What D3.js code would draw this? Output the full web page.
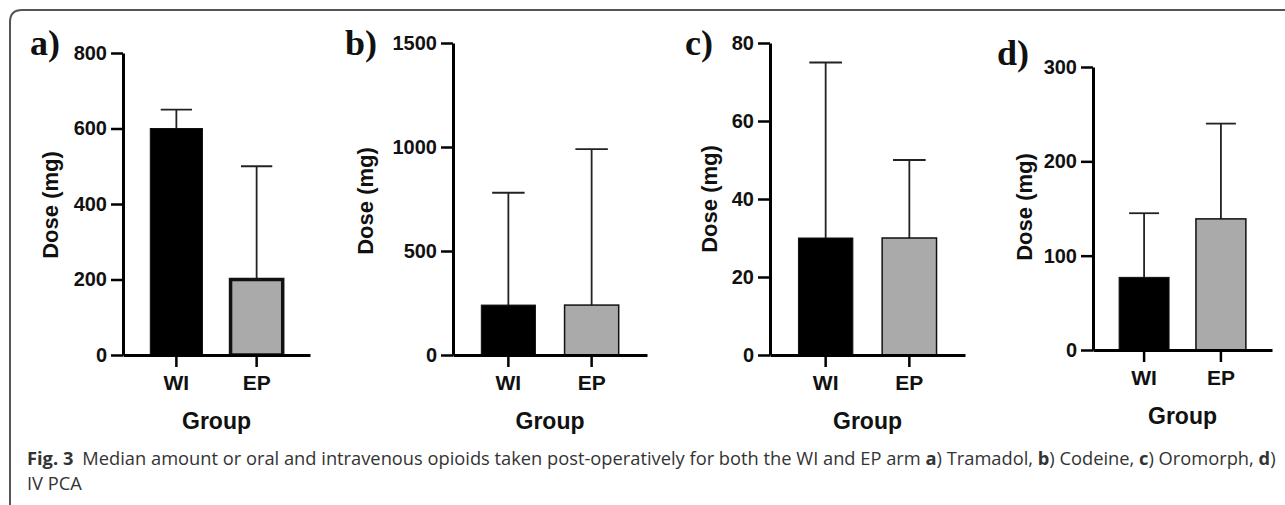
<!DOCTYPE html>
<html>
<head>
<meta charset="utf-8">
<script src="https://cdn.jsdelivr.net/npm/d3@7"></script>
<style>
  html, body { margin: 0; padding: 0; background: #fff; }
  svg { display: block; }
  .lab { font-family: "Liberation Sans", Arial, sans-serif; font-weight: bold; fill: #111; }
</style>
</head>
<body>
<div id="chart"></div>
<script>
// groups on the x axis
const groups = ["WI", "EP"];
// panel letters
const panelLetters = ["a)", "b)", "c)", "d)"];
// median dose (bar height) per panel, WI then EP
const medianA = [600, 200];
const medianB = [240, 240];
const medianC = [30, 30];
const medianD = [77, 139];
// upper error bar value per panel
const upperA = [650, 500];
const upperB = [780, 990];
const upperC = [75, 50];
const upperD = [145, 240];
// y axis tick values per panel
const ticksA = [0, 200, 400, 600, 800];
const ticksB = [0, 500, 1000, 1500];
const ticksC = [0, 20, 40, 60, 80];
const ticksD = [0, 100, 200, 300];

const barColors = ["#000000", "#aaaaaa"];

const W = 1285, H = 505;

const svg = d3.select("#chart")
  .append("svg")
  .attr("width", W)
  .attr("height", H);

// 外框（左上圆角）
svg.append("path")
  .attr("d", `M10,${H} L10,22 Q10,10 22,10 L${W},10`)
  .attr("fill", "none")
  .attr("stroke", "#555")
  .attr("stroke-width", 2);

// panel layout: axis origin, width, top
const panels = [
  { label: panelLetters[0], median: medianA, upper: upperA, ticks: ticksA,
    x0: 123, x1: 310, y0: 355, yTop: 53, labelX: 30, labelY: 55, titleX: 50, titleY: 205, epStroke: 3.5 },
  { label: panelLetters[1], median: medianB, upper: upperB, ticks: ticksB,
    x0: 453, x1: 647, y0: 355, yTop: 43, labelX: 345, labelY: 55, titleX: 365, titleY: 201, epStroke: 1.5 },
  { label: panelLetters[2], median: medianC, upper: upperC, ticks: ticksC,
    x0: 770, x1: 965, y0: 355, yTop: 43, labelX: 685, labelY: 55, titleX: 709, titleY: 199, epStroke: 1.5 },
  { label: panelLetters[3], median: medianD, upper: upperD, ticks: ticksD,
    x0: 1093, x1: 1272, y0: 350, yTop: 67, labelX: 997, labelY: 65, titleX: 1024, titleY: 207, epStroke: 1.5 }
];

panels.forEach((p) => {
  const g = svg.append("g");

  const x = d3.scaleBand()
    .domain(groups)
    .range([p.x0, p.x1])
    .paddingInner(0.35)
    .paddingOuter(0.34);

  const y = d3.scaleLinear()
    .domain([0, d3.max(p.ticks)])
    .range([p.y0, p.yTop]);

  // error bars (drawn first so the bar covers the lower part)
  const capW = x.bandwidth() * 0.6;
  groups.forEach((grp, i) => {
    const cx = x(grp) + x.bandwidth() / 2;
    g.append("line")
      .attr("x1", cx).attr("x2", cx)
      .attr("y1", y(p.median[i])).attr("y2", y(p.upper[i]))
      .attr("stroke", "#222").attr("stroke-width", 1.8);
    g.append("line")
      .attr("x1", cx - capW / 2).attr("x2", cx + capW / 2)
      .attr("y1", y(p.upper[i])).attr("y2", y(p.upper[i]))
      .attr("stroke", "#222").attr("stroke-width", 1.8);
  });

  // bars
  g.selectAll(".bar")
    .data(groups)
    .join("rect")
    .attr("class", "bar")
    .attr("x", (d) => x(d))
    .attr("width", x.bandwidth())
    .attr("y", (d, i) => y(p.median[i]))
    .attr("height", (d, i) => p.y0 - y(p.median[i]))
    .attr("fill", (d, i) => barColors[i])
    .attr("stroke", "#111")
    .attr("stroke-width", (d, i) => (i === 1 ? p.epStroke : 1));

  // y axis
  const yAxis = g.append("g")
    .attr("transform", `translate(${p.x0},0)`)
    .call(d3.axisLeft(y).tickValues(p.ticks).tickFormat(d3.format("d"))
      .tickSize(12).tickPadding(4).tickSizeOuter(0));
  yAxis.select(".domain").attr("stroke", "#000").attr("stroke-width", 3);
  yAxis.selectAll(".tick line").attr("stroke", "#000").attr("stroke-width", 2.5);
  yAxis.selectAll(".tick text")
    .attr("class", "lab")
    .style("font-size", "20px");

  // x axis
  const xAxis = g.append("g")
    .attr("transform", `translate(0,${p.y0})`)
    .call(d3.axisBottom(x).tickSize(12).tickPadding(8).tickSizeOuter(0));
  xAxis.select(".domain").attr("stroke", "#000").attr("stroke-width", 3);
  xAxis.selectAll(".tick line").attr("stroke", "#000").attr("stroke-width", 2.5);
  xAxis.selectAll(".tick text")
    .attr("class", "lab")
    .style("font-size", "21px");

  // axis titles
  g.append("text")
    .attr("class", "lab")
    .attr("x", (p.x0 + p.x1) / 2)
    .attr("y", p.y0 + 74)
    .attr("text-anchor", "middle")
    .style("font-size", "23px")
    .text("Group");

  g.append("text")
    .attr("class", "lab")
    .attr("transform", `translate(${p.titleX},${p.titleY}) rotate(-90)`)
    .attr("text-anchor", "middle")
    .attr("dy", "0.35em")
    .style("font-size", "22px")
    .text("Dose (mg)");

  // panel letter
  g.append("text")
    .attr("x", p.labelX)
    .attr("y", p.labelY)
    .style("font-family", "'Liberation Serif', 'Times New Roman', serif")
    .style("font-weight", "bold")
    .style("font-size", "36px")
    .attr("fill", "#111")
    .text(p.label);
});

// 图注（两行放在同一个 text 里）
const caption = svg.append("text")
  .attr("x", 27)
  .attr("y", 465)
  .style("font-family", "'Open Sans', sans-serif")
  .style("font-size", "18.3px")
  .attr("fill", "#333");
const captionParts = [
  ["Fig. 3", true, 0], ["Median amount or oral and intravenous opioids taken post-operatively for both the WI and EP arm ", false, 9],
  ["a", true, 0], [") Tramadol, ", false, 0], ["b", true, 0], [") Codeine, ", false, 0],
  ["c", true, 0], [") Oromorph, ", false, 0], ["d", true, 0], [")", false, 0]
];
captionParts.forEach(([t, b, dx]) => {
  caption.append("tspan")
    .attr("dx", dx)
    .style("font-weight", b ? "bold" : "normal")
    .text(t);
});
caption.append("tspan")
  .attr("x", 27)
  .attr("dy", 25)
  .text("IV PCA");
</script>
</body>
</html>
